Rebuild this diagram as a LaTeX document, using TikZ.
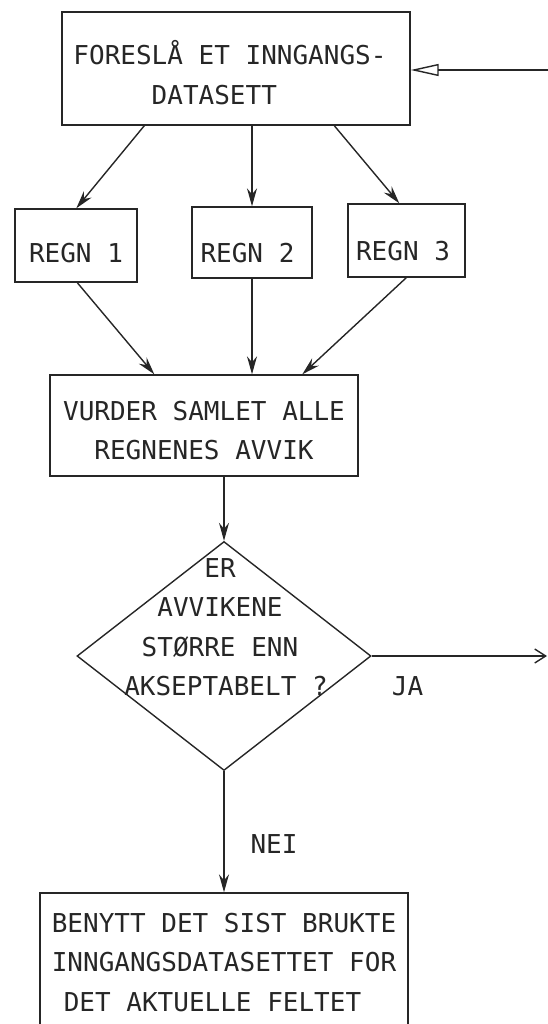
\documentclass[tikz,border=0pt]{standalone}
\usepackage{fontspec}
\newfontfamily\flowmono{DejaVu Sans Mono}
\usetikzlibrary{arrows.meta,shapes.geometric,calc}
\newcommand{\mytop}[1]{\rule{0pt}{#1pt}}
\newcommand{\mybot}[1]{\rule[-#1pt]{0pt}{#1pt}}
\begin{document}
\begin{tikzpicture}[x=1pt,y=-1pt,
  every node/.style={font=\flowmono\fontsize{26}{39.5}\selectfont, text=black!85},
  box/.style={draw=black!85, line width=1.4pt, rectangle, inner sep=0pt, align=center},
  lbox/.style={box, align=left},
  txt/.style={inner sep=0pt, align=center},
  arr/.style={draw=black!85, line width=1.4pt, -{Stealth[length=18pt,width=10pt,inset=6pt]}},
  plain/.style={draw=black!85, line width=1.4pt},
]
\clip (0,0) rectangle (548,1024);
% boxes
\node[lbox, minimum width=348pt, minimum height=113pt] (top) at (236,68.5)
  {\mytop{34.5}FORESLÅ ET INNGANGS-\kern12pt\\\phantom{FORES}DATASETT\mybot{2}};
\node[box, minimum width=122pt, minimum height=73pt] (r1) at (76,245.5)
  {\mytop{35}REGN 1\mybot{2}};
\node[box, minimum width=120pt, minimum height=71pt] (r2) at (252,242.5)
  {\mytop{41}REGN 2\kern9pt\mybot{2}};
\node[box, minimum width=117pt, minimum height=73pt] (r3) at (406.5,240.5)
  {\mytop{41}REGN 3\kern7pt\mybot{2}};
\node[box, minimum width=308pt, minimum height=101pt] (v) at (204,425.5)
  {\mytop{30.5}VURDER SAMLET ALLE\\REGNENES AVVIK\mybot{2}};
\node[draw=black!85, diamond, line width=1.4pt, minimum width=294pt, minimum height=229pt, inner sep=0pt] (dec) at (224,656) {};
\node[txt] (dectext) at (220,624.5)
  {\mytop{26}ER\\AVVIKENE\\STØRRE ENN\\\kern12pt AKSEPTABELT ?\mybot{2}};
\node[txt] (ja) at (407.5,683) {\mytop{26}JA\mybot{2}};
\node[txt] (nei) at (274,841) {\mytop{26}NEI\mybot{2}};
\node[lbox, minimum width=368pt, minimum height=167pt] (bot) at (224,976.5)
  {\mytop{26}BENYTT DET SIST BRUKTE\\INNGANGSDATASETTET FOR\\\hspace*{12pt}DET AKTUELLE FELTET\mybot{36}};
% free ends
\coordinate (fbstart) at (548,70);
\coordinate (jaend) at (547,660);
% connectors
\draw[arr] ([xshift=83pt]top.south west) -- ([xshift=62pt]r1.north west);
\draw[arr] (r2.north |- top.south) -- (r2.north);
\draw[arr] ([xshift=273pt]top.south west) -- ([xshift=52pt]r3.north west);
\draw[arr] ([xshift=63pt]r1.south west) -- ([xshift=105pt]v.north west);
\draw[arr] (r2.south) -- (r2.south |- v.north);
\draw[arr] ([xshift=59pt]r3.south west) -- ([xshift=253pt]v.north west);
\draw[arr] (dec.north |- v.south) -- (dec.north);
\draw[arr] (dec.south) -- (dec.south |- bot.north);
\draw[plain, -{Straight Barb[length=11pt,width=14pt]}] (dec.east) -- (dec.east -| jaend);
\draw[plain, -{Triangle[open,length=28pt,width=12pt]}] (fbstart) -- (fbstart -| top.east);
\end{tikzpicture}
\end{document}
